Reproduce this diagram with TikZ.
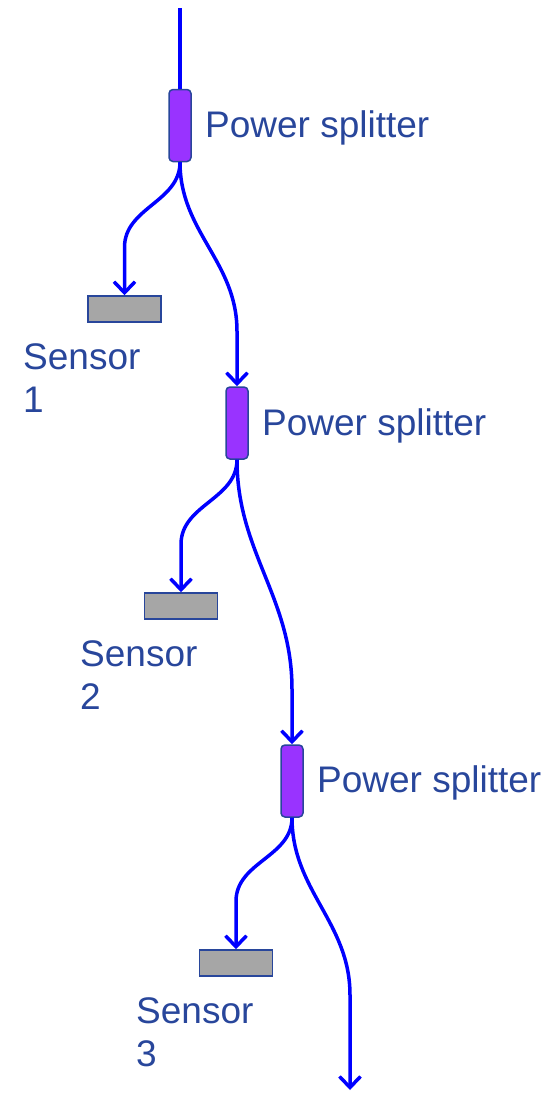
\documentclass[tikz,border=0pt]{standalone}
\usepackage{fontspec}
\setmainfont{Liberation Sans}
\usetikzlibrary{arrows.meta}
\definecolor{fibre}{RGB}{0,0,255}
\definecolor{ink}{RGB}{40,70,155}
\definecolor{splitfill}{RGB}{153,51,255}
\definecolor{sensfill}{RGB}{166,166,166}
\tikzset{
  splitter/.style={draw=ink,line width=1.5pt,fill=splitfill,rounded corners=4pt,
    minimum width=22pt,minimum height=72pt,inner sep=0pt},
  sensor/.style={draw=ink,line width=1.5pt,fill=sensfill,
    minimum width=73pt,minimum height=26pt,inner sep=0pt},
  lbl/.style={text=ink,inner sep=0pt,font=\fontsize{37}{43}\selectfont},
  fibreline/.style={draw=fibre,line width=3.5pt}
}
\begin{document}
\begin{tikzpicture}[x=1pt,y=-1pt,>={Straight Barb[length=11pt,width=21pt]}]
  \useasboundingbox (0,0) rectangle (553,1093);
  \coordinate (in) at (180,8);
  \coordinate (out) at (350,1090);

  % stage 1
  \node[splitter] (split1) at (180,125.5) {};
  \node[lbl,anchor=base west] (ps1) at (205,137) {Power splitter};
  \node[sensor] (sens1) at (124.5,309) {};
  \node[lbl,anchor=north west,align=left] (sl1) at (23,343) {Sensor\\1};

  % stage 2
  \node[splitter] (split2) at (237,423) {};
  \node[lbl,anchor=base west] (ps2) at (262,435) {Power splitter};
  \node[sensor] (sens2) at (181,606) {};
  \node[lbl,anchor=north west,align=left] (sl2) at (80,640) {Sensor\\2};

  % stage 3
  \node[splitter] (split3) at (292,781) {};
  \node[lbl,anchor=base west] (ps3) at (317,792) {Power splitter};
  \node[sensor] (sens3) at (236,963) {};
  \node[lbl,anchor=north west,align=left] (sl3) at (136,997) {Sensor\\3};

  % fibres
  \draw[fibreline] (in) -- (split1.north);
  \draw[fibreline,->] (split1.south) to[out=-90,in=90] ([yshift=48pt]sens1.north) -- (sens1.north);
  \draw[fibreline,->] (split1.south) to[out=-90,in=90] ([yshift=55pt]split2.north) -- (split2.north);
  \draw[fibreline,->] (split2.south) to[out=-90,in=90] ([yshift=48pt]sens2.north) -- (sens2.north);
  \draw[fibreline,->] (split2.south) to[out=-90,in=90] ([yshift=55pt]split3.north) -- (split3.north);
  \draw[fibreline,->] (split3.south) to[out=-90,in=90] ([yshift=95pt]out) -- (out);
  \draw[fibreline,->] (split3.south) to[out=-90,in=90] ([yshift=48pt]sens3.north) -- (sens3.north);
\end{tikzpicture}
\end{document}
